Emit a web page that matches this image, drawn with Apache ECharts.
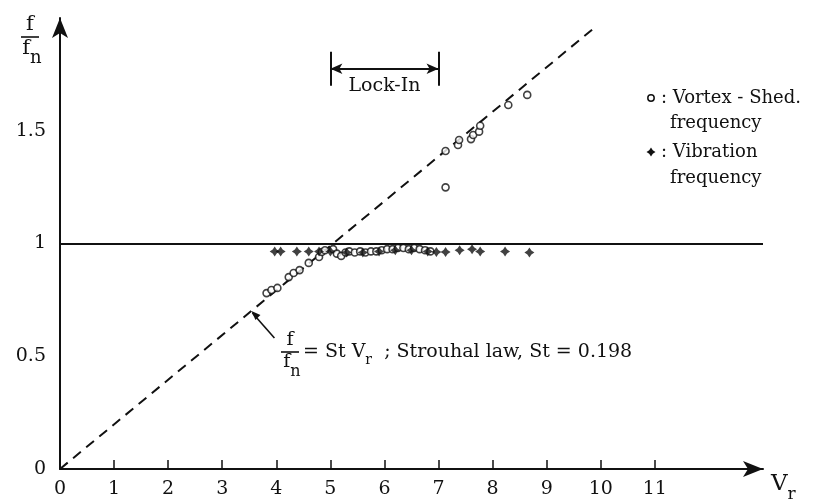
<!DOCTYPE html>
<html>
<head>
<meta charset="utf-8">
<script src="https://cdn.jsdelivr.net/npm/echarts@6/dist/echarts.min.js"></script>
<style>
  html, body { margin: 0; padding: 0; background: #fff; }
  #chart { width: 837px; height: 504px; }
</style>
</head>
<body>
<div id="chart"></div>
<script>
// 涡脱落频率 (圆圈)
const vortexX = [3.82, 3.91, 4.02, 4.23, 4.32, 4.43, 4.6, 4.79, 4.84,
  4.9, 5.05, 5.12, 5.2, 5.28, 5.35, 5.45, 5.55, 5.65, 5.75, 5.85, 5.95,
  6.05, 6.15, 6.25, 6.35, 6.45, 6.55, 6.65, 6.75, 6.85,
  7.13, 7.13, 7.36, 7.38, 7.6, 7.64, 7.75, 7.77, 8.29, 8.64];
const vortexY = [0.78, 0.794, 0.803, 0.851, 0.869, 0.882, 0.914, 0.94, 0.962,
  0.97, 0.975, 0.955, 0.945, 0.96, 0.965, 0.96, 0.965, 0.96, 0.965, 0.965, 0.97,
  0.975, 0.975, 0.98, 0.98, 0.975, 0.98, 0.975, 0.97, 0.965,
  1.249, 1.41, 1.437, 1.459, 1.463, 1.481, 1.496, 1.522, 1.614, 1.659];
// 振动频率 (星号)
const vibX = [3.97, 4.08, 4.38, 4.6, 4.79, 5.0, 5.3, 5.6, 5.9, 6.2, 6.5, 6.8,
  6.96, 7.13, 7.39, 7.62, 7.77, 8.23, 8.68];
const vibY = [0.965, 0.965, 0.965, 0.965, 0.965, 0.965, 0.96, 0.96, 0.965, 0.97, 0.97, 0.965,
  0.962, 0.962, 0.97, 0.975, 0.965, 0.965, 0.96];
const xTicks = [0, 1, 2, 3, 4, 5, 6, 7, 8, 9, 10, 11];
const yTicks = [0, 0.5, 1, 1.5];
const St = 0.198;
const lawX = [0, 9.9];
const lockIn = [5, 7];
const lockY = 1.775;

const serif = "DejaVu Serif";
const ink = "#111";

const chart = echarts.init(document.getElementById("chart"));

const starPts = [[0, -10], [4, -4], [10, 0], [4, 4], [0, 10], [-4, 4], [-10, 0], [-4, -4]];
const starPath = "path://M0,-10 L4,-4 L10,0 L4,4 L0,10 L-4,4 L-10,0 L-4,-4 Z";

const option = {
  animation: false,
  grid: { left: 60, right: 74, top: 18, bottom: 35 },
  xAxis: {
    type: "value",
    min: 0,
    max: 13,
    splitLine: { show: false },
    axisLine: {
      lineStyle: { color: ink, width: 2 },
      symbol: ["none", "arrow"],
      symbolSize: [12, 20],
    },
    axisTick: {
      customValues: xTicks.slice(1),
      inside: true,
      length: 9,
      lineStyle: { color: ink, width: 1.5 },
    },
    axisLabel: {
      customValues: xTicks,
      color: ink,
      fontFamily: serif,
      fontSize: 19,
      margin: 11,
    },
  },
  yAxis: {
    type: "value",
    min: 0,
    max: 2,
    splitLine: { show: false },
    axisLine: {
      lineStyle: { color: ink, width: 2 },
      symbol: ["none", "arrow"],
      symbolSize: [12, 20],
    },
    axisTick: { show: false },
    axisLabel: {
      customValues: yTicks,
      color: ink,
      fontFamily: serif,
      fontSize: 19,
      margin: 14,
    },
  },
  series: [
    {
      name: "law",
      type: "line",
      data: lawX.map((x) => [x, St * x]),
      showSymbol: false,
      lineStyle: { color: ink, width: 2, type: [10, 7] },
      silent: true,
      markLine: {
        silent: true,
        symbol: "none",
        lineStyle: { color: ink, width: 2, type: "solid" },
        label: { show: false },
        data: [
          [{ coord: [0, 1] }, { coord: [13, 1] }],
          [{ coord: [lockIn[0], lockY + 0.075] }, { coord: [lockIn[0], lockY - 0.075] }],
          [{ coord: [lockIn[1], lockY + 0.075] }, { coord: [lockIn[1], lockY - 0.075] }],
          [
            { coord: [lockIn[0], lockY], symbol: "arrow", symbolSize: [8, 12] },
            { coord: [lockIn[1], lockY], symbol: "arrow", symbolSize: [8, 12] },
          ],
        ],
      },
    },
    {
      name: "Vortex - Shed. frequency",
      type: "scatter",
      data: vortexX.map((x, i) => [x, vortexY[i]]),
      symbol: "circle",
      symbolSize: 7,
      itemStyle: { color: "#fff", borderColor: ink, borderWidth: 1.6 },
      z: 3,
    },
    {
      name: "Vibration frequency",
      type: "scatter",
      data: vibX.map((x, i) => [x, vibY[i]]),
      symbol: starPath,
      symbolSize: 10,
      itemStyle: { color: ink },
      z: 4,
    },
  ],
};

chart.setOption(option);

// 注释文字
const txt = (x, y, text, size, align, vAlign) => ({
  type: "text",
  x,
  y,
  style: {
    text,
    fontFamily: serif,
    fontSize: size,
    fill: ink,
    align: align || "left",
    verticalAlign: vAlign || "middle",
  },
});

const frac = (cx, cy, size) => [
  txt(cx, cy - 2, "f", size, "center", "bottom"),
  {
    type: "line",
    shape: { x1: cx - 9, y1: cy, x2: cx + 9, y2: cy },
    style: { stroke: ink, lineWidth: 1.6 },
  },
  {
    type: "text",
    x: cx + 2,
    y: cy + 1,
    style: {
      text: "{m|f}{s|n}",
      align: "center",
      verticalAlign: "top",
      rich: {
        m: { fontFamily: serif, fontSize: size, fill: ink, lineHeight: size + 8, verticalAlign: "top" },
        s: { fontFamily: serif, fontSize: size - 3, fill: ink, lineHeight: size + 8, verticalAlign: "bottom" },
      },
    },
  },
];

const lockMid = chart.convertToPixel({ gridIndex: 0 }, [(lockIn[0] + lockIn[1]) / 2, lockY]);
const tip = chart.convertToPixel({ gridIndex: 0 }, [3.54, St * 3.54]);
const vrPos = chart.convertToPixel({ gridIndex: 0 }, [13, 0]);

chart.setOption({
  graphic: [
    // y 轴标题 f/fn
    ...frac(30, 37, 21),
    // x 轴标题 Vr
    {
      type: "text",
      x: vrPos[0] + 8,
      y: vrPos[1] + 4,
      style: {
        text: "{m|V}{s|r}",
        rich: {
          m: { fontFamily: serif, fontSize: 23, fill: ink, lineHeight: 30, verticalAlign: "top" },
          s: { fontFamily: serif, fontSize: 17, fill: ink, lineHeight: 30, verticalAlign: "bottom" },
        },
      },
    },
    // Lock-In
    txt(lockMid[0], lockMid[1] + 8, "Lock-In", 19, "center", "top"),
    // Strouhal 箭头
    {
      type: "line",
      shape: { x1: tip[0] + 23, y1: tip[1] + 27, x2: tip[0] + 1, y2: tip[1] + 2 },
      style: { stroke: ink, lineWidth: 1.6 },
    },
    {
      type: "polygon",
      shape: {
        points: [
          [tip[0], tip[1]],
          [tip[0] + 9, tip[1] + 4],
          [tip[0] + 4, tip[1] + 9],
        ],
      },
      style: { fill: ink },
    },
    ...frac(290, 352, 19),
    {
      type: "text",
      x: 303,
      y: 352,
      style: {
        text: "{m|= St V}{s|r}{m|  ; Strouhal law, St = 0.198}",
        verticalAlign: "middle",
        rich: {
          m: { fontFamily: serif, fontSize: 19, fill: ink, lineHeight: 30, verticalAlign: "middle" },
          s: { fontFamily: serif, fontSize: 14, fill: ink, lineHeight: 30, verticalAlign: "bottom" },
        },
      },
    },
    // 图例
    {
      type: "circle",
      shape: { cx: 651, cy: 98, r: 3.2 },
      style: { fill: "#fff", stroke: ink, lineWidth: 1.5 },
    },
    txt(661, 98, ": Vortex - Shed.", 18),
    txt(670, 123, "frequency", 18),
    {
      type: "polygon",
      shape: { points: starPts.map((p) => [651 + p[0] * 0.45, 152 + p[1] * 0.45]) },
      style: { fill: ink },
    },
    txt(661, 152, ": Vibration", 18),
    txt(670, 178, "frequency", 18),
  ],
});

window.addEventListener("resize", () => {
  chart.resize();
});
</script>
</body>
</html>
